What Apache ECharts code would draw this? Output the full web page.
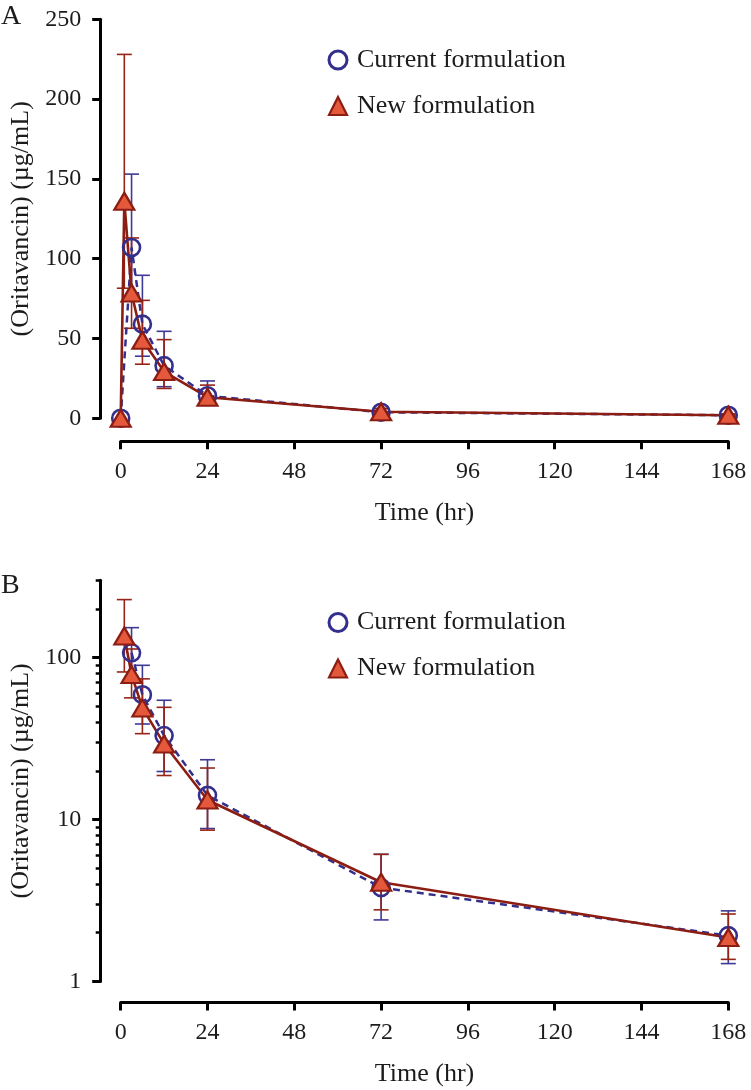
<!DOCTYPE html>
<html>
<head>
<meta charset="utf-8">
<script src="https://cdn.jsdelivr.net/npm/echarts@6/dist/echarts.min.js"></script>
<style>
html,body{margin:0;padding:0;background:#ffffff;}
#chart{width:751px;height:1090px;}
</style>
</head>
<body>
<div id="chart"></div>
<script>
// ---- data ----
const timesCurrent = [0, 3, 6, 12, 24, 72, 168];
const meanCurrent  = [0, 107, 59, 33, 14.1, 3.8, 1.92];
const lowCurrent   = [null, 75, 38.9, 19.8, 8.8, 2.4, 1.29];
const highCurrent  = [null, 153, 89.6, 54.5, 23.4, 6.1, 2.73];

const timesNew = [0, 1, 3, 6, 12, 24, 72, 168];
const meanNew  = [0, 136, 78.5, 48.9, 29.3, 13.2, 4.1, 1.87];
const lowNew   = [null, 81.5, 56.4, 33.9, 18.7, 8.6, 2.77, 1.37];
const highNew  = [null, 228, 113, 73.9, 49.3, 20.8, 6.1, 2.61];

const xTicks = [0, 24, 48, 72, 96, 120, 144, 168];
const yTicksLinear = [0, 50, 100, 150, 200, 250];
const yTicksLogMajor = [1, 10, 100];
const yTicksLogMinor = [2, 3, 4, 5, 6, 7, 8, 9, 20, 30, 40, 50, 60, 70, 80, 90, 200, 300];

const legendNames = ['Current formulation', 'New formulation'];
const panelLetters = ['A', 'B'];
const xTitle = 'Time (hr)';
const yTitle = '(Oritavancin) (µg/mL)';

// ---- styles ----
const FONT = 'Liberation Serif';
const TXT = '#1c1c1c';
const BLUE = '#342f8c';
const BLUE_ERR = '#3d3a95';
const RED_LINE = '#8c1d12';
const RED_FILL = '#e4583c';
const RED_ERR = '#962417';

function pairs(ts, vs, logOnly) {
  const out = [];
  ts.forEach((t, i) => { if (!logOnly || vs[i] > 0) out.push([t, vs[i]]); });
  return out;
}
function errData(ts, lo, hi) {
  const out = [];
  ts.forEach((t, i) => { if (lo[i] != null) out.push([t, lo[i], hi[i]]); });
  return out;
}
function errSeries(name, ts, lo, hi, color, xi, yi) {
  return {
    name: name, type: 'custom', xAxisIndex: xi, yAxisIndex: yi,
    data: errData(ts, lo, hi),
    encode: { x: 0, y: [1, 2] },
    silent: true,
    renderItem: function (params, api) {
      const x = api.value(0);
      const pl = api.coord([x, api.value(1)]);
      const ph = api.coord([x, api.value(2)]);
      const hw = 7.5;
      const st = { stroke: color, lineWidth: 1.6 };
      return {
        type: 'group',
        children: [
          { type: 'line', shape: { x1: pl[0], y1: pl[1], x2: ph[0], y2: ph[1] }, style: st },
          { type: 'line', shape: { x1: ph[0] - hw, y1: ph[1], x2: ph[0] + hw, y2: ph[1] }, style: st },
          { type: 'line', shape: { x1: pl[0] - hw, y1: pl[1], x2: pl[0] + hw, y2: pl[1] }, style: st }
        ]
      };
    }
  };
}
function currentLine(xi, yi, logOnly) {
  return {
    name: legendNames[0], type: 'line', xAxisIndex: xi, yAxisIndex: yi,
    data: pairs(timesCurrent, meanCurrent, logOnly),
    symbol: 'circle', symbolSize: 17, showSymbol: true,
    lineStyle: { color: BLUE, width: 2.5, type: [7, 5] },
    itemStyle: { color: 'rgba(255,255,255,0)', borderColor: BLUE, borderWidth: 2.6 },
    emphasis: { disabled: true }
  };
}
function newLine(xi, yi, logOnly) {
  return {
    name: legendNames[1], type: 'line', xAxisIndex: xi, yAxisIndex: yi,
    data: pairs(timesNew, meanNew, logOnly),
    symbol: 'triangle', symbolSize: [20, 17], showSymbol: true,
    lineStyle: { color: RED_LINE, width: 2.6 },
    itemStyle: { color: RED_FILL, borderColor: RED_LINE, borderWidth: 2.2 },
    emphasis: { disabled: true }
  };
}

const axisLineStyle = { color: '#000', width: 3 };
function xAxisDef(gi, off) {
  return {
    gridIndex: gi, type: 'value', min: xTicks[0], max: xTicks[xTicks.length - 1],
    interval: xTicks[1] - xTicks[0], offset: off, position: 'bottom',
    name: xTitle, nameLocation: 'middle', nameGap: 59,
    nameTextStyle: { fontFamily: FONT, fontSize: 26, color: TXT },
    axisLine: { show: true, onZero: false, lineStyle: axisLineStyle },
    axisTick: { show: true, length: 8, lineStyle: { color: '#000', width: 3 } },
    axisLabel: { fontFamily: FONT, fontSize: 24, color: TXT, margin: 18 },
    splitLine: { show: false }
  };
}
function legendDef(top) {
  return {
    orient: 'vertical', left: 322.5, top: top,
    itemWidth: 18, itemHeight: 18, itemGap: 18,
    selectedMode: false,
    textStyle: { fontFamily: FONT, fontSize: 26, color: TXT, lineHeight: 28, padding: [0, 0, 0, 5] },
    data: [
      { name: legendNames[0], icon: 'circle', itemStyle: { color: 'rgba(255,255,255,0)', borderColor: BLUE, borderWidth: 3 } },
      { name: legendNames[1], icon: 'triangle', itemStyle: { color: RED_FILL, borderColor: RED_LINE, borderWidth: 2.2 } }
    ]
  };
}

const option = {
  animation: false,
  backgroundColor: '#ffffff',
  title: [
    { text: panelLetters[0], left: 1, top: 3, padding: 0, textStyle: { fontFamily: FONT, fontSize: 28, fontWeight: 'normal', color: TXT } },
    { text: panelLetters[1], left: 1, top: 572, padding: 0, textStyle: { fontFamily: FONT, fontSize: 28, fontWeight: 'normal', color: TXT } }
  ],
  legend: [legendDef(41), legendDef(603.5)],
  grid: [
    { left: 120.7, top: 19.3, width: 607.6, height: 399 },
    { left: 120.7, top: 580.3, width: 607.6, height: 401.2 }
  ],
  xAxis: [xAxisDef(0, 23), xAxisDef(1, 21)],
  yAxis: [
    {
      gridIndex: 0, type: 'value', position: 'left', min: yTicksLinear[0], max: yTicksLinear[yTicksLinear.length - 1],
      interval: yTicksLinear[1] - yTicksLinear[0], offset: 20.5,
      name: yTitle, nameLocation: 'middle', nameGap: 46,
      nameTextStyle: { fontFamily: FONT, fontSize: 26, color: TXT },
      axisLine: { show: true, onZero: false, lineStyle: axisLineStyle },
      axisTick: { show: true, length: 8, lineStyle: { color: '#000', width: 3 } },
      axisLabel: { fontFamily: FONT, fontSize: 24, color: TXT, margin: 19 },
      splitLine: { show: false }
    },
    {
      gridIndex: 1, type: 'log', position: 'left', logBase: 10, min: 1, max: 300, offset: 20.5,
      name: yTitle, nameLocation: 'middle', nameGap: 46,
      nameTextStyle: { fontFamily: FONT, fontSize: 26, color: TXT },
      axisLine: { show: true, onZero: false, lineStyle: axisLineStyle },
      axisTick: { show: true, length: 8, customValues: yTicksLogMajor, lineStyle: { color: '#000', width: 3 } },
      axisLabel: { fontFamily: FONT, fontSize: 24, color: TXT, margin: 19, customValues: yTicksLogMajor },
      splitLine: { show: false }
    },
    {
      gridIndex: 1, type: 'log', position: 'left', logBase: 10, min: 1, max: 300, offset: 20.5,
      axisLine: { show: false, onZero: false },
      axisTick: { show: true, length: 4.5, customValues: yTicksLogMinor, lineStyle: { color: '#000', width: 2.5 } },
      axisLabel: { show: false },
      splitLine: { show: false }
    }
  ],
  series: [
    errSeries('Current SD A', timesCurrent, lowCurrent, highCurrent, BLUE_ERR, 0, 0),
    currentLine(0, 0, false),
    errSeries('New SD A', timesNew, lowNew, highNew, RED_ERR, 0, 0),
    newLine(0, 0, false),
    errSeries('Current SD B', timesCurrent, lowCurrent, highCurrent, BLUE_ERR, 1, 1),
    currentLine(1, 1, true),
    errSeries('New SD B', timesNew, lowNew, highNew, RED_ERR, 1, 1),
    newLine(1, 1, true)
  ]
};

const chart = echarts.init(document.getElementById('chart'), null, { renderer: 'canvas' });
chart.setOption(option);
</script>
</body>
</html>
